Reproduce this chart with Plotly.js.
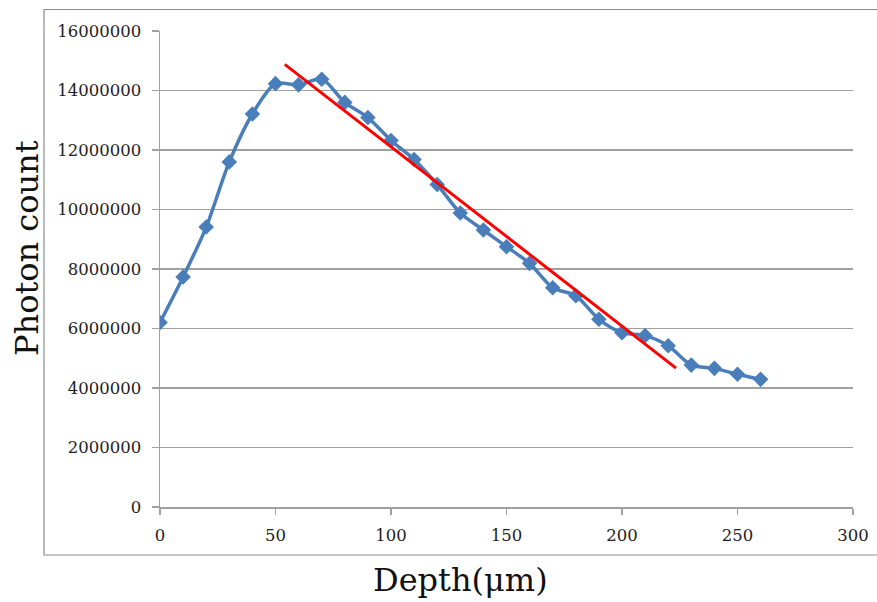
<!DOCTYPE html>
<html>
<head>
<meta charset="utf-8">
<script src="https://cdn.plot.ly/plotly-3.0.1.min.js"></script>
<style>html,body{margin:0;padding:0;background:#fff;}#chart{width:877px;height:602px;}</style>
</head>
<body>
<div id="chart"></div>
<script>
const depth = [0,10,20,30,40,50,60,70,80,90,100,110,120,130,140,150,160,170,180,190,200,210,220,230,240,250,260];
const photons = [6200000,7730000,9410000,11600000,13210000,14230000,14190000,14380000,13600000,13090000,12320000,11680000,10840000,9880000,9310000,8750000,8190000,7370000,7100000,6310000,5860000,5760000,5420000,4770000,4660000,4460000,4290000];
const fitX = [54, 223.4];
const fitY = [14880000, 4670000];
const yTicks = [0,2000000,4000000,6000000,8000000,10000000,12000000,14000000,16000000];
const xTicks = [0,50,100,150,200,250,300];

const font = "DejaVu Serif, serif";
const data = [
  {x: depth, y: photons, type:'scatter', mode:'lines+markers',
   line:{color:'#4A7EBB', width:3.5, shape:'spline', smoothing:0.8},
   marker:{symbol:'diamond', size:12, color:'#4A7EBB'}},
  {x: fitX, y: fitY, type:'scatter', mode:'lines',
   line:{color:'#FF0000', width:3}}
];
const layout = {
  width:877, height:602,
  margin:{l:160, r:24, t:31, b:95},
  paper_bgcolor:'#fff', plot_bgcolor:'#fff',
  showlegend:false,
  font:{family:font, color:'#222', size:16},
  xaxis:{range:[0,300], tickvals:xTicks, ticktext:xTicks.map(String),
    showgrid:false, zeroline:false, showline:true, linecolor:'#A0A0A0', linewidth:1.5,
    ticks:'outside', ticklen:6, tickcolor:'#A0A0A0', tickwidth:1.5, ticklabelstandoff:7,
    tickfont:{family:font, size:16.5, color:'#222'}, fixedrange:true},
  yaxis:{range:[0,16000000], tickvals:yTicks, ticktext:yTicks.map(String),
    showgrid:true, gridcolor:'#A0A0A0', gridwidth:1.5, zeroline:false,
    showline:true, linecolor:'#A0A0A0', linewidth:1.5,
    ticks:'outside', ticklen:7, tickcolor:'#A0A0A0', tickwidth:1.5, ticklabelstandoff:7,
    tickfont:{family:font, size:16.5, color:'#222'}, fixedrange:true},
  shapes:[{type:'rect', xref:'paper', yref:'paper', x0:-0.1674, x1:1.05, y0:-0.1008, y1:1.0452,
    line:{color:'#8C8C8C', width:1.2}, fillcolor:'rgba(0,0,0,0)'}],
  annotations:[
    {text:'Photon count', xref:'paper', yref:'paper', x:(27-160)/693, y:(507-248)/476,
     xanchor:'center', yanchor:'middle', textangle:-90, showarrow:false,
     font:{family:font, size:32, color:'#111'}},
    {text:'Depth(μm)', xref:'paper', yref:'paper', x:(460-160)/693, y:(507-580)/476,
     xanchor:'center', yanchor:'middle', showarrow:false,
     font:{family:font, size:32, color:'#111'}}
  ]
};
Plotly.newPlot('chart', data, layout, {displayModeBar:false, staticPlot:true});
</script>
</body>
</html>
